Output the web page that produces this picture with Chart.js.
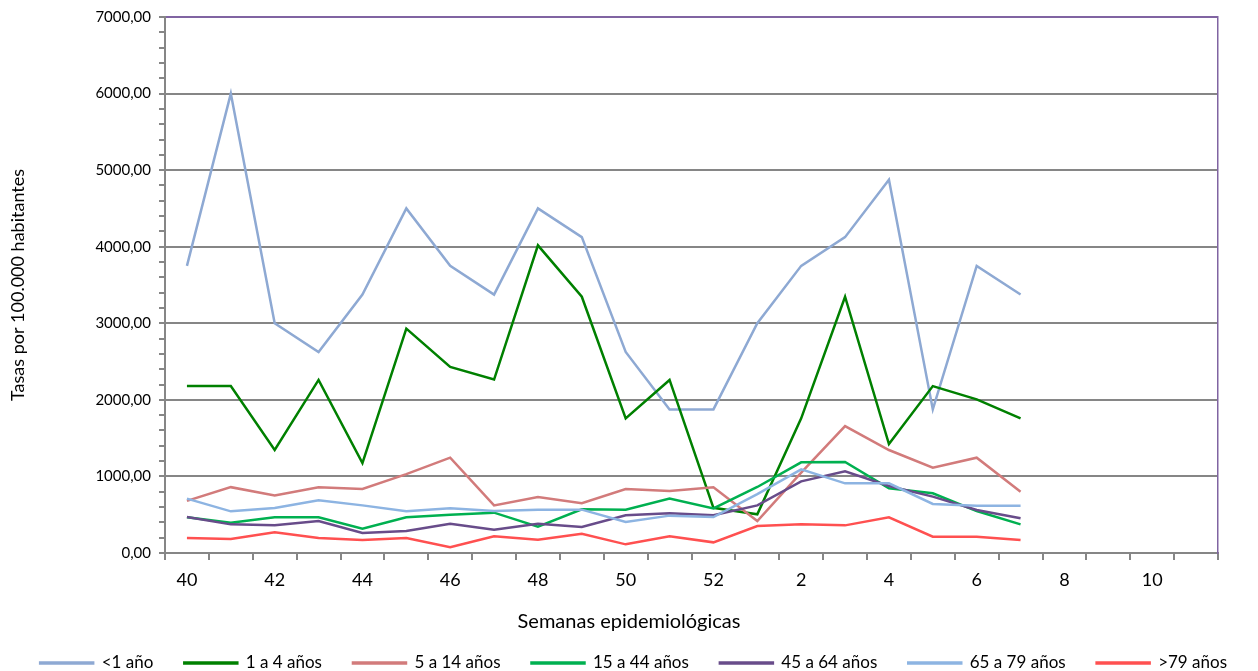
<!DOCTYPE html>
<html>
<head>
<meta charset="utf-8">
<script src="https://cdn.jsdelivr.net/npm/chart.js@4/dist/chart.umd.min.js"></script>
<style>
    html, body { margin: 0; padding: 0; background: #fff; }
    #wrap { width: 1258px; height: 671px; position: relative; }
</style>
</head>
<body>
<div id="wrap"><canvas id="tasasChart"></canvas></div>
<script>
    // semanas epidemiologicas (40..52 del año anterior, 1..11)
    const weeks = ['40','41','42','43','44','45','46','47','48','49','50','51','52','1','2','3','4','5','6','7','8','9','10','11'];

    // tasas por 100.000 habitantes
    const menor1 = [3750, 6000, 3000, 2625, 3375, 4500, 3750, 3375, 4500, 4125, 2625, 1875, 1875, 3000, 3750, 4125, 4875, 1875, 3750, 3375, null, null, null, null];
    const de1a4 = [2180, 2180, 1345, 2260, 1175, 2930, 2430, 2265, 4018, 3347, 1758, 2260, 590, 505, 1758, 3347, 1423, 2180, 2007, 1758, null, null, null, null];
    const de5a14 = [680, 860, 752, 860, 836, 1030, 1245, 622, 731, 649, 836, 810, 858, 418, 1050, 1658, 1345, 1114, 1245, 801, null, null, null, null];
    const de15a44 = [466, 396, 466, 466, 318, 466, 501, 527, 344, 570, 565, 710, 583, 862, 1184, 1190, 845, 780, 548, 374, null, null, null, null];
    const de45a64 = [470, 374, 361, 418, 261, 287, 383, 305, 383, 340, 492, 518, 492, 622, 936, 1067, 875, 736, 562, 453, null, null, null, null];
    const de65a79 = [710, 544, 588, 688, 622, 544, 584, 548, 566, 566, 405, 488, 470, 770, 1093, 910, 910, 640, 618, 618, null, null, null, null];
    const mayor79 = [196, 183, 270, 196, 170, 196, 74, 218, 174, 252, 113, 218, 139, 353, 374, 361, 466, 213, 213, 170, null, null, null, null];

    const seriesNames = ['<1 año', '1 a 4 años', '5 a 14 años', '15 a 44 años', '45 a 64 años', '65 a 79 años', '>79 años'];
    const seriesColors = ['#8EA9D3', '#008000', '#D27B7B', '#00B050', '#684C8A', '#8DB4E2', '#FF5050'];
    const seriesData = [menor1, de1a4, de5a14, de15a44, de45a64, de65a79, mayor79];

    const GRID = '#868686';
    const BORDE = '#8064A2';
    const FONT = 'Lato, "Open Sans", sans-serif';

    const datasets = seriesData.map((d, i) => ({
        label: seriesNames[i],
        data: d,
        borderColor: seriesColors[i],
        backgroundColor: seriesColors[i],
        borderWidth: 2.5,
        pointRadius: 0,
        tension: 0,
        yAxisID: 'y',
        order: seriesData.length - i   // las ultimas series quedan encima
    }));

    const el = document.getElementById('tasasChart');
    new Chart(el.getContext('2d'), {
        type: 'line',
        data: { labels: weeks, datasets: datasets },
        options: {
            responsive: true,
            maintainAspectRatio: false,
            animation: false,
            layout: { padding: { top: 12, right: 0, left: 0, bottom: -10.5 } },
            plugins: {
                tooltip: { enabled: false },
                title: {
                    display: true,
                    position: 'bottom',
                    weight: 500,
                    text: 'Semanas epidemiológicas',
                    color: '#000',
                    font: { family: FONT, size: 20, weight: 'normal' },
                    padding: { top: 10.4, bottom: -10.5 }
                },
                legend: {
                    position: 'bottom',
                    align: 'end',
                    labels: {
                        boxWidth: 53,
                        boxHeight: 1,
                        padding: 31,
                        color: '#000',
                        font: { family: FONT, size: 17 },
                        sort: (a, b) => a.datasetIndex - b.datasetIndex
                    }
                }
            },
            scales: {
                x: {
                    type: 'category',
                    offset: true,
                    grid: { offset: true, drawOnChartArea: false, color: GRID, lineWidth: 2, tickLength: 7 },
                    border: { color: GRID, width: 2 },
                    ticks: {
                        autoSkip: false,
                        maxRotation: 0,
                        color: '#000',
                        padding: 9,
                        font: { family: FONT, size: 18 },
                        callback: (v, i) => (i % 2 === 0 ? weeks[i] : '')
                    }
                },
                y: {
                    min: 0,
                    max: 7000,
                    afterFit: (scale) => { scale.width = 165; },
                    grid: {
                        color: (c) => {
                            if (!c.tick) return 'rgba(0,0,0,0)';
                            if (c.tick.value === 7000) return BORDE;
                            return c.tick.value % 1000 === 0 ? GRID : 'rgba(0,0,0,0)';
                        },
                        tickColor: GRID,
                        lineWidth: 2,
                        tickLength: 6
                    },
                    border: { color: GRID, width: 2 },
                    ticks: {
                        stepSize: 200,
                        autoSkip: false,
                        color: '#000',
                        padding: 8,
                        font: { family: FONT, size: 15 },
                        callback: (v) => (v % 1000 === 0 ? v.toFixed(2).replace('.', ',') : '')
                    },
                    title: {
                        display: true,
                        text: 'Tasas por 100.000 habitantes',
                        color: '#000',
                        font: { family: FONT, size: 18 },
                        padding: { top: 7, bottom: 4 }
                    }
                },
                // eje vacio a la derecha: solo da el borde morado y el margen
                y2: {
                    position: 'right',
                    min: 0,
                    max: 7000,
                    afterFit: (scale) => { scale.width = 40; },
                    grid: { drawOnChartArea: false, drawTicks: false },
                    border: { color: BORDE, width: 1.5 },
                    ticks: { display: false }
                }
            }
        }
    });
</script>
</body>
</html>
